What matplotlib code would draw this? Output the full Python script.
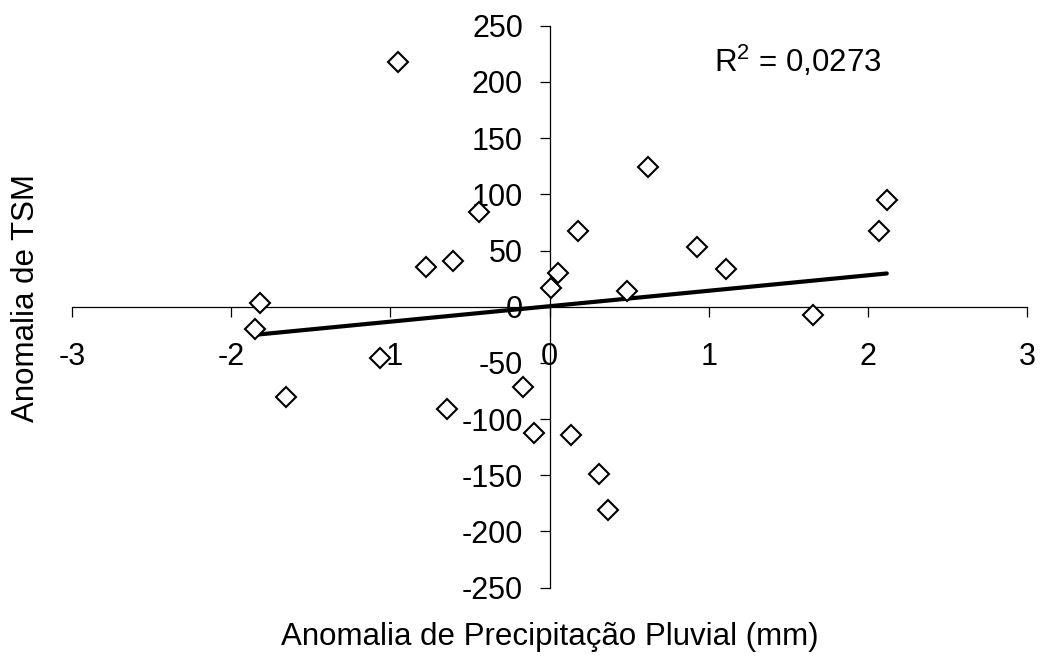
import numpy as np
import matplotlib
matplotlib.use("Agg")
import matplotlib.pyplot as plt

plt.rcParams['font.family'] = ['Liberation Sans', 'DejaVu Sans']
plt.rcParams['axes.unicode_minus'] = False
plt.rcParams['mathtext.default'] = 'regular'

# Data
precip_anom = [-0.954, -0.442, -0.779, -0.604, -1.822, -1.849, -1.066, -1.658,
               -0.644, -0.165, -0.100, 0.136, 0.312, 0.364, 0.010, 0.050,
               0.176, 0.615, 0.486, 0.929, 1.105, 1.654, 2.068, 2.118]
tsm_anom = [218, 84, 35, 41, 3.5, -19.5, -45.8, -80.6,
            -91, -71.7, -112.8, -114.3, -148.6, -180.5, 17, 30,
            67, 124, 13.6, 52.7, 33.5, -7.2, 67, 95.4]
x_ticks = [-3, -2, -1, 0, 1, 2, 3]
y_ticks = [-250, -200, -150, -100, -50, 0, 50, 100, 150, 200, 250]
r2_label = "R$^{2}$ = 0,0273"
xlabel = "Anomalia de Precipitação Pluvial (mm)"
ylabel = "Anomalia de TSM"

W, H = 1043, 657
fig = plt.figure(figsize=(W / 100, H / 100), dpi=100)
ax = fig.add_axes([72.0 / W, (H - 587.6) / H, 955.2 / W, 561.8 / H])

x = np.array(precip_anom)
y = np.array(tsm_anom)
slope, intercept = np.polyfit(x, y, 1)
xl = np.array([x.min(), x.max()])
ax.plot(xl, slope * xl + intercept, color='black', lw=3, solid_capstyle='round', zorder=2)
ax.plot(x, y, linestyle='none', marker='D', markersize=10.3, markerfacecolor='white',
        markeredgecolor='black', markeredgewidth=1.5, zorder=3, clip_on=False)

ax.set_xlim(-3, 3)
ax.set_ylim(-250, 250)
ax.set_xticks(x_ticks)
ax.set_yticks(y_ticks)
ax.set_xticklabels([str(v) for v in x_ticks])
ax.set_yticklabels([str(v) for v in y_ticks])

for s in ['top', 'right']:
    ax.spines[s].set_visible(False)
ax.spines['left'].set_position(('data', 0))
ax.spines['bottom'].set_position(('data', 0))
for s in ['left', 'bottom']:
    ax.spines[s].set_linewidth(0.9)
    ax.spines[s].set_zorder(1)

ax.tick_params(axis='x', direction='out', length=7.2, width=0.9, pad=18, labelsize=22)
ax.tick_params(axis='y', direction='out', length=7.2, width=0.9, pad=12, labelsize=22)
ax.patch.set_visible(False)

ax.text(1.03, 209, r2_label, fontsize=22.5, ha='left', va='baseline')

fig.text(549.5 / W, (H - 645) / H, xlabel, fontsize=22.5, ha='center', va='baseline')
fig.text(26 / W, (H - 298) / H, ylabel, fontsize=22.5, ha='center', va='center', rotation=90)

fig.savefig('out.png', dpi=100, facecolor='white')
